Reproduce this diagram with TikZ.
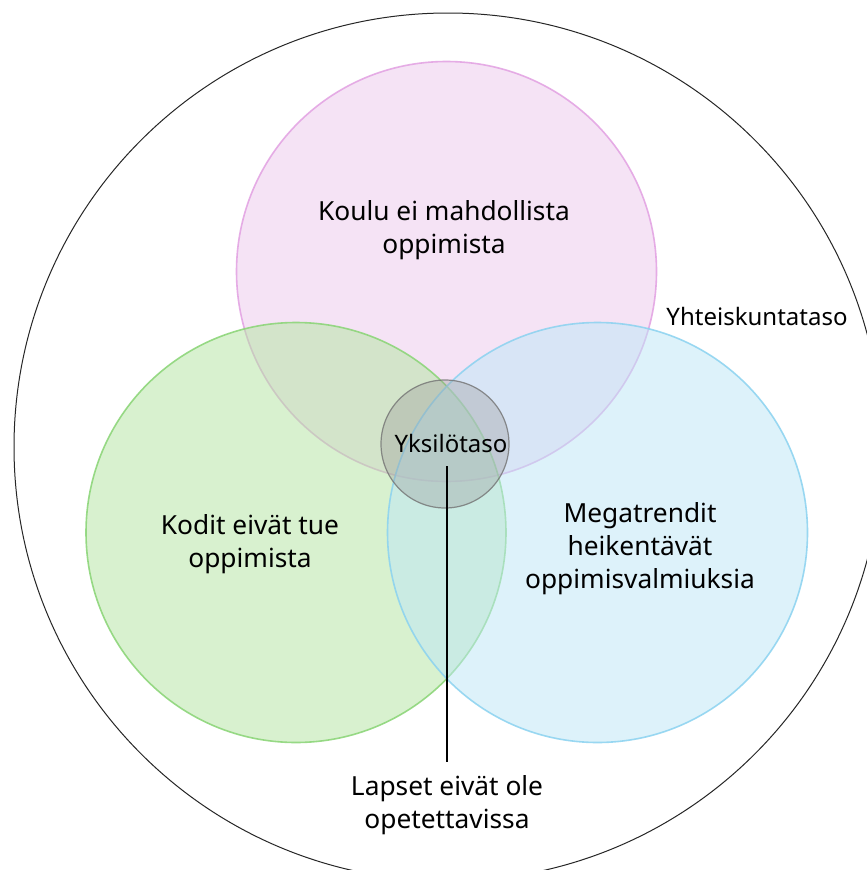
\documentclass[tikz,border=0pt]{standalone}
\usepackage{fontspec}
\setmainfont{Noto Sans}
\begin{document}
\begin{tikzpicture}[x=1pt,y=-1pt,
  every node/.style={inner sep=0pt},
  venn/.style={circle, minimum size=420pt, line width=1.6pt, fill opacity=0.5, draw opacity=0.85},
  lbl/.style={align=center, font=\fontsize{26.3}{33}\selectfont, text=black},
  slbl/.style={font=\fontsize{24}{28}\selectfont, text=black}]
\definecolor{pinkS}{RGB}{226,160,226}
\definecolor{pinkF}{RGB}{237,201,237}
\definecolor{greenS}{RGB}{136,212,116}
\definecolor{greenF}{RGB}{179,229,161}
\definecolor{blueS}{RGB}{138,210,240}
\definecolor{blueF}{RGB}{189,231,247}
\useasboundingbox (0,0) rectangle (867,870);
\clip (0,0) rectangle (867,870);
\fill[white] (0,0) rectangle (867,870);
\node[circle, draw=black!85, line width=1pt, minimum size=868pt] (outer) at (448,447) {};
\node[venn, draw=pinkS, fill=pinkF] (pink) at (446.5,271.5) {};
\node[venn, draw=greenS, fill=greenF] (green) at (296,532.5) {};
\node[venn, draw=blueS, fill=blueF] (blue) at (597.5,532.5) {};
\node[circle, minimum size=128pt, draw=black!55, line width=1.2pt, fill=black!40, fill opacity=0.35, draw opacity=0.8] (ind) at (445,444) {};
\node[lbl] (koulu) at (444,230.5) {Koulu ei mahdollista\\oppimista};
\node[lbl] (kodit) at (250,544) {Kodit eivät tue\\oppimista};
\node[lbl] (mega) at (640,549) {Megatrendit\\heikentävät\\oppimisvalmiuksia};
\node[lbl] (lapset) at (447,805) {Lapset eivät ole\\opetettavissa};
\node[slbl, anchor=base] (yht) at (757,325) {Yhteiskuntataso};
\node[slbl, anchor=base] (yks) at (451,452) {Yksilötaso};
\coordinate (ls) at (447,466);
\coordinate (le) at (447,762);
\draw[line width=1.6pt, black] (ls) -- (le);
\end{tikzpicture}
\end{document}
